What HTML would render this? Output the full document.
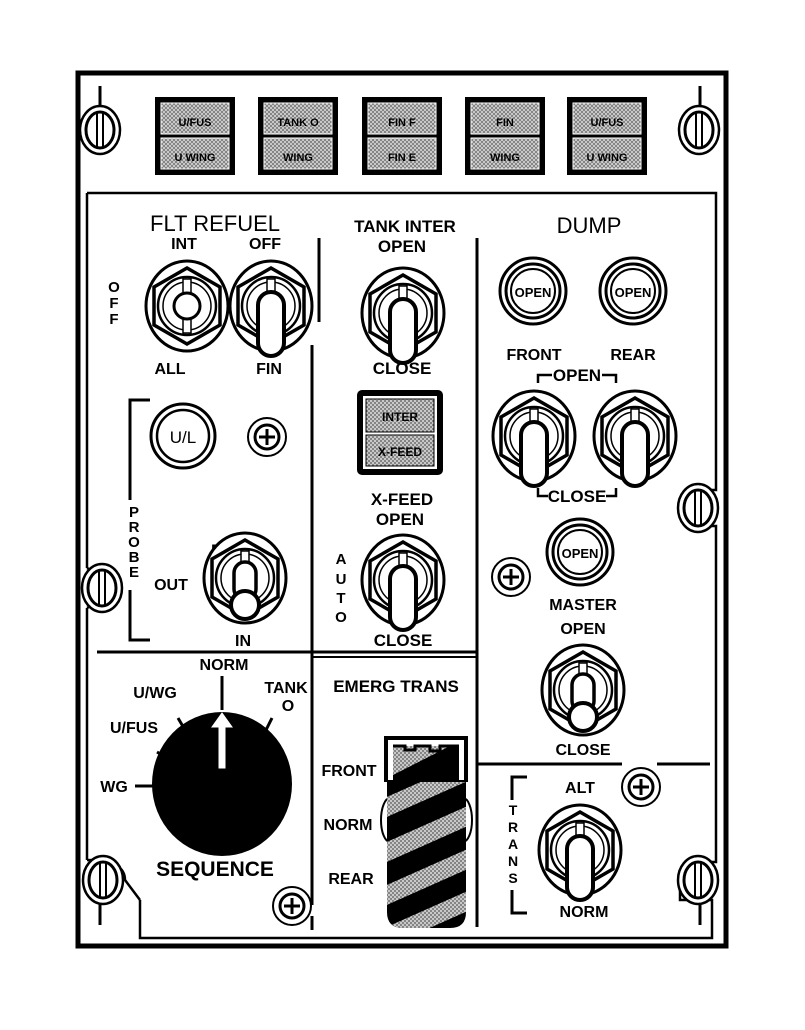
<!DOCTYPE html>
<html><head><meta charset="utf-8"><style>
html,body{margin:0;padding:0;background:#fff}
svg{display:block}
text{font-family:"Liberation Sans",sans-serif;font-weight:bold;fill:#000}
</style></head><body>
<svg width="805" height="1030" viewBox="0 0 805 1030" xmlns="http://www.w3.org/2000/svg">
<defs>
<pattern id="dots" width="4" height="4" patternUnits="userSpaceOnUse">
<rect width="4" height="4" fill="#c8c8c8"/><circle cx="1" cy="1" r="0.9" fill="#555"/><circle cx="3" cy="3" r="0.9" fill="#555"/>
</pattern>
<g id="tbase">
<ellipse rx="41" ry="45" fill="#fff" stroke="#000" stroke-width="3"/>
<polygon points="0,-38 33,-19 33,19 0,38 -33,19 -33,-19" fill="none" stroke="#000" stroke-width="3.5"/>
<circle r="29" fill="#fff" stroke="#000" stroke-width="2.5"/>
<circle r="24" fill="none" stroke="#000" stroke-width="1.5"/>
<rect x="-4" y="-27" width="8" height="14" fill="#fff" stroke="#000" stroke-width="1.5"/>
</g>
<g id="tlong"><use href="#tbase"/><rect x="-13" y="-14" width="26" height="64" rx="13" fill="#fff" stroke="#000" stroke-width="4"/></g>
<g id="tball"><use href="#tbase"/><rect x="-11" y="-16" width="22" height="38" rx="11" fill="#fff" stroke="#000" stroke-width="3.5"/><circle cy="27" r="14" fill="#fff" stroke="#000" stroke-width="4"/></g>
<g id="tint"><use href="#tbase"/><rect x="-4" y="13" width="8" height="14" fill="#fff" stroke="#000" stroke-width="1.5"/><circle r="13" fill="#fff" stroke="#000" stroke-width="3"/></g>
<g id="ind"><circle r="33" fill="#fff" stroke="#000" stroke-width="3"/><circle r="27" fill="none" stroke="#000" stroke-width="3"/><circle r="22" fill="none" stroke="#000" stroke-width="2"/></g>
<g id="pscrew"><circle r="19" fill="#fff" stroke="#000" stroke-width="2"/><circle r="12" fill="none" stroke="#000" stroke-width="3"/><line x1="-8" y1="0" x2="8" y2="0" stroke="#000" stroke-width="3"/><line x1="0" y1="-8" x2="0" y2="8" stroke="#000" stroke-width="3"/></g>
<g id="sscrew"><ellipse rx="20" ry="24" fill="#fff" stroke="#000" stroke-width="2.5"/><ellipse rx="14" ry="18" fill="none" stroke="#000" stroke-width="3"/><line x1="-3" y1="-17" x2="-3" y2="17" stroke="#000" stroke-width="2"/><line x1="3" y1="-17" x2="3" y2="17" stroke="#000" stroke-width="2"/></g>
<g id="lamp"><rect x="0" y="0" width="80" height="78" fill="#000"/><rect x="6" y="6" width="68" height="31" fill="url(#dots)" stroke="#fff" stroke-width="1"/><rect x="6" y="41" width="68" height="31" fill="url(#dots)" stroke="#fff" stroke-width="1"/></g>
</defs>

<rect x="78" y="73" width="648" height="873" fill="none" stroke="#000" stroke-width="5"/>
<path d="M87,193 H716 V490 H706 M706,526 H716 V862 H706 M706,900 H712 V938 H140 V900 M87,193 V568 M87,608 V860" fill="none" stroke="#000" stroke-width="2.5"/>
<path d="M87,568 A22,22 0 0 1 87,608" fill="none" stroke="#000" stroke-width="2.5"/>
<path d="M706,490 A24,24 0 0 0 706,526" fill="none" stroke="#000" stroke-width="2.5"/>
<path d="M87,860 Q125,860 125,880 Q140,900 140,900" fill="none" stroke="#000" stroke-width="2.5"/>
<path d="M706,862 Q680,862 680,880 L680,900 H706" fill="none" stroke="#000" stroke-width="2.5"/>

<line x1="100" y1="86" x2="100" y2="108" stroke="#000" stroke-width="3"/>
<line x1="700" y1="86" x2="700" y2="108" stroke="#000" stroke-width="3"/>
<line x1="100" y1="902" x2="100" y2="925" stroke="#000" stroke-width="3"/>
<line x1="700" y1="902" x2="700" y2="925" stroke="#000" stroke-width="3"/>
<line x1="312" y1="916" x2="312" y2="930" stroke="#000" stroke-width="3"/>

<use href="#sscrew" x="100" y="130"/>
<use href="#sscrew" x="699" y="130"/>
<use href="#sscrew" x="102" y="588"/>
<use href="#sscrew" x="698" y="508"/>
<use href="#sscrew" x="103" y="880"/>
<use href="#sscrew" x="698" y="880"/>

<use href="#lamp" x="155" y="97"/>
<use href="#lamp" x="258" y="97"/>
<use href="#lamp" x="362" y="97"/>
<use href="#lamp" x="465" y="97"/>
<use href="#lamp" x="567" y="97"/>
<g font-size="11" text-anchor="middle">
<text x="195" y="126">U/FUS</text><text x="195" y="161">U WING</text>
<text x="298" y="126">TANK O</text><text x="298" y="161">WING</text>
<text x="402" y="126">FIN F</text><text x="402" y="161">FIN E</text>
<text x="505" y="126">FIN</text><text x="505" y="161">WING</text>
<text x="607" y="126">U/FUS</text><text x="607" y="161">U WING</text>
</g>

<line x1="319" y1="238" x2="319" y2="322" stroke="#000" stroke-width="3"/>
<line x1="312" y1="345" x2="312" y2="905" stroke="#000" stroke-width="3"/>
<line x1="477" y1="238" x2="477" y2="927" stroke="#000" stroke-width="3"/>
<line x1="97" y1="652" x2="477" y2="652" stroke="#000" stroke-width="3"/>
<line x1="312" y1="657" x2="477" y2="657" stroke="#000" stroke-width="2"/>
<line x1="477" y1="764" x2="622" y2="764" stroke="#000" stroke-width="3"/>
<line x1="657" y1="764" x2="710" y2="764" stroke="#000" stroke-width="3"/>

<text x="215" y="231" font-size="22" text-anchor="middle" style="font-weight:normal">FLT  REFUEL</text>
<text x="184" y="249" font-size="16" text-anchor="middle">INT</text>
<text x="265" y="249" font-size="16" text-anchor="middle">OFF</text>
<g font-size="15" text-anchor="middle"><text x="114" y="292">O</text><text x="114" y="308">F</text><text x="114" y="324">F</text></g>
<use href="#tint" x="187" y="306"/>
<use href="#tlong" x="271" y="306"/>
<text x="170" y="374" font-size="16" text-anchor="middle">ALL</text>
<text x="269" y="374" font-size="16" text-anchor="middle">FIN</text>

<path d="M150,400 H130 V640 H150" fill="none" stroke="#000" stroke-width="3"/>
<rect x="128" y="500" width="8" height="90" fill="#fff"/>
<g font-size="15" text-anchor="middle"><text x="134" y="517">P</text><text x="134" y="532">R</text><text x="134" y="547">O</text><text x="134" y="562">B</text><text x="134" y="577">E</text></g>
<circle cx="183" cy="436" r="32" fill="#fff" stroke="#000" stroke-width="3"/>
<circle cx="183" cy="436" r="26" fill="none" stroke="#000" stroke-width="2.5"/>
<text x="183" y="443" font-size="17" text-anchor="middle" style="font-weight:normal">U/L</text>
<use href="#pscrew" x="267" y="437"/>
<text x="237" y="556" font-size="17" text-anchor="middle">E/OUT</text>
<text x="171" y="590" font-size="16" text-anchor="middle">OUT</text>
<use href="#tball" x="245" y="578"/>
<text x="243" y="646" font-size="16" text-anchor="middle">IN</text>

<text x="405" y="232" font-size="17" text-anchor="middle">TANK INTER</text>
<text x="402" y="252" font-size="17" text-anchor="middle">OPEN</text>
<use href="#tlong" x="403" y="313"/>
<text x="402" y="374" font-size="17" text-anchor="middle">CLOSE</text>
<rect x="357" y="390" width="86" height="85" rx="5" fill="#000"/>
<rect x="363" y="396" width="74" height="73" fill="#fff"/>
<rect x="366" y="399" width="68" height="33" fill="url(#dots)" stroke="#000" stroke-width="1"/>
<rect x="366" y="435" width="68" height="31" fill="url(#dots)" stroke="#000" stroke-width="1"/>
<text x="400" y="421" font-size="12" text-anchor="middle">INTER</text>
<text x="400" y="456" font-size="12" text-anchor="middle">X-FEED</text>
<text x="402" y="505" font-size="17" text-anchor="middle">X-FEED</text>
<text x="400" y="525" font-size="17" text-anchor="middle">OPEN</text>
<g font-size="15" text-anchor="middle"><text x="341" y="564">A</text><text x="341" y="584">U</text><text x="341" y="603">T</text><text x="341" y="622">O</text></g>
<use href="#tlong" x="403" y="580"/>
<text x="403" y="646" font-size="17" text-anchor="middle">CLOSE</text>

<text x="589" y="233" font-size="22" text-anchor="middle" style="font-weight:normal">DUMP</text>
<use href="#ind" x="533" y="291"/>
<use href="#ind" x="633" y="291"/>
<text x="533" y="297" font-size="13" text-anchor="middle">OPEN</text>
<text x="633" y="297" font-size="13" text-anchor="middle">OPEN</text>
<text x="534" y="360" font-size="16" text-anchor="middle">FRONT</text>
<text x="633" y="360" font-size="16" text-anchor="middle">REAR</text>
<path d="M538,383 V375 H552 M602,375 H616 V383" fill="none" stroke="#000" stroke-width="2.5"/>
<text x="577" y="381" font-size="17" text-anchor="middle">OPEN</text>
<use href="#tlong" x="534" y="436"/>
<use href="#tlong" x="635" y="436"/>
<path d="M538,488 V496 H548 M606,496 H616 V488" fill="none" stroke="#000" stroke-width="2.5"/>
<text x="577" y="502" font-size="17" text-anchor="middle">CLOSE</text>
<use href="#ind" x="580" y="552"/>
<text x="580" y="558" font-size="13" text-anchor="middle">OPEN</text>
<use href="#pscrew" x="511" y="577"/>
<text x="583" y="610" font-size="16" text-anchor="middle">MASTER</text>
<text x="583" y="634" font-size="16" text-anchor="middle">OPEN</text>
<use href="#tball" x="583" y="690"/>
<text x="583" y="755" font-size="16" text-anchor="middle">CLOSE</text>
<use href="#pscrew" x="641" y="787"/>

<path d="M527,777 H512 V913 H527" fill="none" stroke="#000" stroke-width="3"/>
<rect x="508" y="800" width="10" height="90" fill="#fff"/>
<g font-size="14" text-anchor="middle"><text x="513" y="815">T</text><text x="513" y="832">R</text><text x="513" y="849">A</text><text x="513" y="866">N</text><text x="513" y="883">S</text></g>
<text x="580" y="793" font-size="16" text-anchor="middle">ALT</text>
<use href="#tlong" x="580" y="850"/>
<text x="584" y="917" font-size="16" text-anchor="middle">NORM</text>

<ellipse cx="222" cy="784" rx="70" ry="72" fill="#000"/>
<path d="M219,768 V727 H212 L222,713 L232,727 H225 V768 Z" fill="#fff" stroke="#fff" stroke-width="1"/>
<line x1="222" y1="676" x2="222" y2="710" stroke="#000" stroke-width="3"/>
<line x1="178" y1="718" x2="188" y2="735" stroke="#000" stroke-width="3"/>
<line x1="265" y1="732" x2="272" y2="718" stroke="#000" stroke-width="3"/>
<line x1="157" y1="752" x2="170" y2="760" stroke="#000" stroke-width="3"/>
<line x1="135" y1="786" x2="153" y2="786" stroke="#000" stroke-width="3"/>
<text x="224" y="670" font-size="16" text-anchor="middle">NORM</text>
<text x="155" y="698" font-size="16" text-anchor="middle">U/WG</text>
<text x="134" y="733" font-size="16" text-anchor="middle">U/FUS</text>
<text x="114" y="792" font-size="16" text-anchor="middle">WG</text>
<text x="286" y="693" font-size="16" text-anchor="middle">TANK</text>
<text x="288" y="711" font-size="16" text-anchor="middle">O</text>
<text x="215" y="876" font-size="21" text-anchor="middle">SEQUENCE</text>
<use href="#pscrew" x="292" y="906"/>

<text x="396" y="692" font-size="17" text-anchor="middle">EMERG  TRANS</text>
<text x="349" y="776" font-size="16" text-anchor="middle">FRONT</text>
<text x="348" y="830" font-size="16" text-anchor="middle">NORM</text>
<text x="351" y="884" font-size="16" text-anchor="middle">REAR</text>
<ellipse cx="390" cy="820" rx="9" ry="22" fill="#fff" stroke="#000" stroke-width="2"/>
<ellipse cx="463" cy="820" rx="9" ry="22" fill="#fff" stroke="#000" stroke-width="2"/>
<clipPath id="hc"><path d="M387,780 H466 V912 Q466,928 450,928 H403 Q387,928 387,912 Z"/></clipPath>
<path d="M387,780 H466 V912 Q466,928 450,928 H403 Q387,928 387,912 Z" fill="#000"/>
<g clip-path="url(#hc)" fill="url(#dots)">
<polygon points="380,800 470,760 470,780 380,820"/>
<polygon points="380,845 470,805 470,825 380,865"/>
<polygon points="380,888 470,848 470,868 380,908"/>
<polygon points="380,930 470,890 470,910 380,950"/>
</g>
<rect x="384" y="736" width="84" height="46" fill="#000"/>
<rect x="388" y="740" width="76" height="40" fill="#fff"/>
<clipPath id="hc2"><rect x="393" y="746" width="66" height="34"/></clipPath>
<rect x="393" y="746" width="66" height="34" fill="#000"/>
<polygon clip-path="url(#hc2)" points="393,746 450,746 393,775" fill="url(#dots)"/>
<path d="M393,746 H405 V750 H415 V746 H430 V751 H440 V746 H459" fill="none" stroke="#000" stroke-width="3"/>
</svg>
</body></html>
